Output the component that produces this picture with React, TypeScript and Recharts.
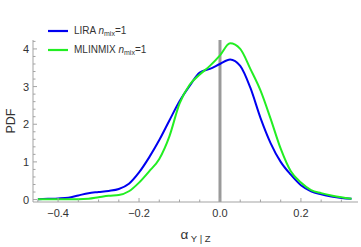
import React from 'react';
import { LineChart, Line, XAxis, YAxis, ReferenceLine, Legend } from 'recharts';

const alphaValues = [
  -0.45, -0.425, -0.4, -0.375, -0.35, -0.325, -0.3, -0.275, -0.25, -0.225, -0.2, -0.175, -0.15, -0.125, -0.1, -0.075,
  -0.05, -0.025, 0, 0.025, 0.05, 0.075, 0.1, 0.125, 0.15, 0.175, 0.2, 0.225, 0.25, 0.275, 0.3, 0.325,
];
const liraPdf = [
  0.01, 0.02, 0.03, 0.05, 0.11, 0.17, 0.2, 0.23, 0.28, 0.42, 0.72, 1.12, 1.58, 2.1, 2.61, 3.02,
  3.37, 3.47, 3.6, 3.72, 3.55, 2.97, 2.17, 1.5, 1.0, 0.66, 0.38, 0.22, 0.14, 0.08, 0.04, 0.02,
];
const mlinmixPdf = [
  0.01, 0.01, 0.01, 0.01, 0.01, 0.02, 0.06, 0.1, 0.12, 0.22, 0.45, 0.75, 1.08, 1.68, 2.55, 3.05,
  3.32, 3.55, 3.83, 4.15, 4.0, 3.47, 2.9, 2.15, 1.35, 0.75, 0.45, 0.25, 0.17, 0.11, 0.06, 0.02,
];
const xTicks = [-0.45, -0.4, -0.35, -0.3, -0.25, -0.2, -0.15, -0.1, -0.05, 0, 0.05, 0.1, 0.15, 0.2, 0.25, 0.3];
const yTicks = [0, 0.2, 0.4, 0.6, 0.8, 1, 1.2, 1.4, 1.6, 1.8, 2, 2.2, 2.4, 2.6, 2.8, 3, 3.2, 3.4, 3.6, 3.8, 4, 4.2];

const data = alphaValues.map((a, i) => ({ a, lira: liraPdf[i], mlinmix: mlinmixPdf[i] }));

const FRAME = '#a3a3a3';
const TEXT = '#333';
const FONT = '"Liberation Sans", Arial, sans-serif';

const isMult = (v: number, step: number) => Math.abs(v / step - Math.round(v / step)) < 1e-6;
const fmtX = (v: number) => (Math.abs(v) < 1e-9 ? '0.0' : (v < 0 ? '\u2212' : '') + Math.abs(v).toFixed(1));

const BottomTick = (props: any) => {
  const { x, y, payload } = props;
  const major = isMult(payload.value, 0.2);
  return (
    <g>
      <line x1={x} x2={x} y1={y} y2={y - (major ? 4 : 2.5)} stroke={FRAME} />
      {major && (
        <text x={x} y={y + 15} textAnchor="middle" fontSize={11} fill={TEXT} fontFamily={FONT}>
          {fmtX(payload.value)}
        </text>
      )}
    </g>
  );
};

const TopTick = (props: any) => {
  const { x, y, payload } = props;
  const major = isMult(payload.value, 0.2);
  return <line x1={x} x2={x} y1={y} y2={y + (major ? 4 : 2.5)} stroke={FRAME} />;
};

const LeftTick = (props: any) => {
  const { x, y, payload } = props;
  const major = isMult(payload.value, 1);
  return (
    <g>
      <line x1={x} x2={x + (major ? 4 : 2.5)} y1={y} y2={y} stroke={FRAME} />
      {major && (
        <text x={x - 4} y={y + 4} textAnchor="end" fontSize={11} fill={TEXT} fontFamily={FONT}>
          {payload.value}
        </text>
      )}
    </g>
  );
};

const RightTick = (props: any) => {
  const { x, y, payload } = props;
  const major = isMult(payload.value, 1);
  return <line x1={x} x2={x - (major ? 4 : 2.5)} y1={y} y2={y} stroke={FRAME} />;
};

const XLabel = (props: any) => {
  const { x, y, width } = props.viewBox;
  return (
    <text x={x + width / 2} y={y + 37} textAnchor="middle" fill={TEXT} fontFamily={FONT} fontSize={13.5}>
      <tspan>α</tspan>
      <tspan fontSize={9.5} dy={3}> Y | Z</tspan>
    </text>
  );
};

const YLabel = (props: any) => {
  const { y, height } = props.viewBox;
  const cy = y + height / 2;
  return (
    <text x={15} y={cy} transform={`rotate(-90, 15, ${cy})`} textAnchor="middle" fill={TEXT} fontFamily={FONT} fontSize={12.5}>
      PDF
    </text>
  );
};

const legendItems = [
  { name: 'LIRA', color: '#0000f0' },
  { name: 'MLINMIX', color: '#22ee22' },
];

const LegendBox = () => (
  <div style={{ fontFamily: FONT, fontSize: 10, color: TEXT }}>
    {legendItems.map((it) => (
      <div key={it.name} style={{ display: 'flex', alignItems: 'center', height: 19 }}>
        <svg width={26} height={4}>
          <line x1={0} x2={20} y1={2} y2={2} stroke={it.color} strokeWidth={2.2} />
        </svg>
        <span>
          {it.name} <i>n</i>
          <sub style={{ fontSize: 7, verticalAlign: 'baseline', position: 'relative', top: 2 }}>mix</sub>=1
        </span>
      </div>
    ))}
  </div>
);

export default function App() {
  return (
    <div style={{ position: 'fixed', left: 0, top: 0, width: 361, height: 247, background: '#fff' }}>
      <LineChart width={361} height={247} data={data} margin={{ top: 2, right: 3, left: 0, bottom: 0 }}>
        <XAxis
          dataKey="a"
          type="number"
          domain={[-0.462, 0.341]}
          ticks={xTicks}
          allowDataOverflow
          stroke={FRAME}
          tickLine={false}
          tickSize={0}
          tickMargin={0}
          height={45}
          tick={<BottomTick />}
          interval={0}
          label={<XLabel />}
        />
        <XAxis
          xAxisId="top"
          orientation="top"
          dataKey="a"
          type="number"
          domain={[-0.462, 0.341]}
          ticks={xTicks}
          allowDataOverflow
          stroke={FRAME}
          tickLine={false}
          tickSize={0}
          tickMargin={0}
          height={0}
          tick={<TopTick />}
          interval={0}
        />
        <YAxis
          type="number"
          domain={[-0.065, 4.237]}
          ticks={yTicks}
          allowDataOverflow
          stroke={FRAME}
          tickLine={false}
          tickSize={0}
          tickMargin={0}
          width={33}
          tick={<LeftTick />}
          interval={0}
          label={<YLabel />}
        />
        <YAxis
          yAxisId="right"
          orientation="right"
          type="number"
          domain={[-0.065, 4.237]}
          ticks={yTicks}
          allowDataOverflow
          stroke={FRAME}
          tickLine={false}
          tickSize={0}
          tickMargin={0}
          width={0}
          tick={<RightTick />}
          interval={0}
        />
        <ReferenceLine x={0} stroke="#9a9a9a" strokeWidth={3} />
        <Line type="monotone" dataKey="lira" stroke="#0000f0" strokeWidth={2} dot={false} isAnimationActive={false} />
        <Line type="monotone" dataKey="mlinmix" stroke="#22ee22" strokeWidth={2} dot={false} isAnimationActive={false} />
        <Legend
          layout="vertical"
          verticalAlign="top"
          align="center"
          content={<LegendBox />}
          wrapperStyle={{ left: 48, top: 21, width: 'auto' }}
        />
      </LineChart>
    </div>
  );
}
